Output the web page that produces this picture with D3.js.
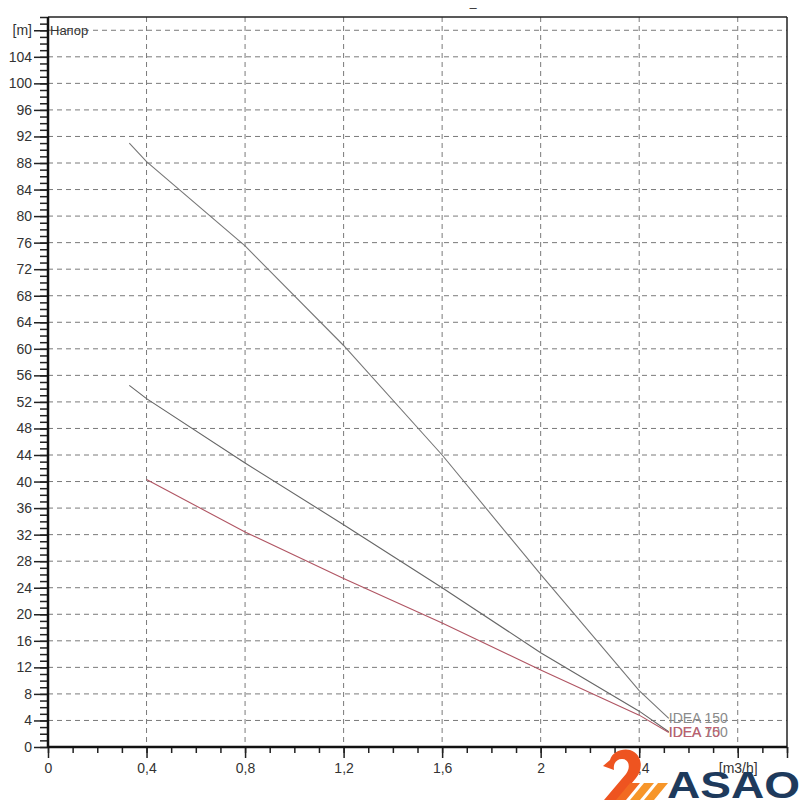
<!DOCTYPE html>
<html><head><meta charset="utf-8">
<script src="https://cdn.jsdelivr.net/npm/d3@7"></script>
<style>body{margin:0;background:#fff}svg{display:block;font-family:"Liberation Sans",Arial,sans-serif}</style>
</head><body><svg id="c" width="800" height="800"></svg>
<script>
const seriesNames = ["IDEA 150", "IDEA 100", "IDEA 75"];
const flowA = [0.33, 0.4, 0.8, 1.2, 1.6, 2.0, 2.4, 2.52];
const headA = [91, 88.2, 75.5, 60.5, 44, 26, 8.5, 4.3];
const flowB = [0.33, 0.4, 0.8, 1.2, 1.6, 2.0, 2.4, 2.52];
const headB = [54.5, 52.5, 42.8, 33.5, 24, 14.2, 5.4, 2.3];
const flowC = [0.4, 0.8, 1.2, 1.6, 2.0, 2.4, 2.52];
const headC = [40.3, 32.4, 25.4, 18.7, 11.6, 4.8, 2.2];
const xTicks = [0, 0.4, 0.8, 1.2, 1.6, 2, 2.4];
const xTickLabels = ["0", "0,4", "0,8", "1,2", "1,6", "2", "2,4"];
const xUnit = "[m3/h]";
const yUnit = "[m]";
const yTitle = "Напор";

const svg = d3.select("#c");
const L = 48, R = 787, T = 17, B = 747;
const x = d3.scaleLinear().domain([0, 3]).range([L, R]);
const y = d3.scaleLinear().domain([0, 110]).range([B, T]);

// grid
const g = svg.append("g");
d3.range(4, 109, 4).forEach(v => g.append("line").attr("x1", L).attr("x2", R).attr("y1", y(v)).attr("y2", y(v))
  .attr("stroke", "#7a7a7a").attr("stroke-dasharray", "5,4").attr("stroke-width", 1));
d3.range(1, 8).map(i => i * 0.4).forEach(v => g.append("line").attr("x1", x(v)).attr("x2", x(v)).attr("y1", T).attr("y2", B)
  .attr("stroke", "#7a7a7a").attr("stroke-dasharray", "5,4").attr("stroke-width", 1));

// frame
svg.append("line").attr("x1", L).attr("x2", R).attr("y1", T).attr("y2", T).attr("stroke", "#222").attr("stroke-width", 1.5);
svg.append("line").attr("x1", R).attr("x2", R).attr("y1", T).attr("y2", B).attr("stroke", "#222").attr("stroke-width", 1.5);

// y axis
const yMinor = d3.range(0, 111, 1);
const yAx = d3.axisLeft(y).tickValues(yMinor).tickSize(8).tickFormat("");
svg.append("g").attr("transform", `translate(${L},0)`).call(yAx)
  .call(s => s.select(".domain").remove()).selectAll("line").attr("stroke", "#222").attr("stroke-width", 1.5);
const yMajor = d3.range(0, 109, 4);
svg.append("g").attr("transform", `translate(${L},0)`).call(d3.axisLeft(y).tickValues(yMajor).tickSize(14)
  .tickFormat(d => d === 108 ? yUnit : d))
  .call(s => s.select(".domain").remove())
  .call(s => s.selectAll("line").attr("stroke", "#222").attr("stroke-width", 1.5))
  .call(s => s.selectAll("text").attr("font-size", 14).attr("fill", "#333").attr("dx", 1));

// x axis
svg.append("g").attr("transform", `translate(0,${B})`).call(d3.axisBottom(x).tickValues(d3.range(0, 31).map(i => i / 10)).tickSize(6).tickFormat(""))
  .call(s => s.select(".domain").remove()).selectAll("line").attr("stroke", "#222").attr("stroke-width", 1.5);
svg.append("g").attr("transform", `translate(0,${B})`).call(d3.axisBottom(x).tickValues(xTicks.concat([2.8, 3])).tickSize(11)
  .tickFormat((d, i) => i < xTickLabels.length ? xTickLabels[i] : (i === xTickLabels.length ? xUnit : "")))
  .call(s => s.select(".domain").remove())
  .call(s => s.selectAll("line").attr("stroke", "#222").attr("stroke-width", 1.5))
  .call(s => s.selectAll("text").attr("font-size", 14).attr("fill", "#333").attr("dy", "0.85em"));

// axis lines
svg.append("line").attr("x1", L).attr("x2", L).attr("y1", T).attr("y2", B + 1).attr("stroke", "#111").attr("stroke-width", 2.5);
svg.append("line").attr("x1", L).attr("x2", R).attr("y1", B).attr("y2", B).attr("stroke", "#111").attr("stroke-width", 2.5);

// labels
svg.append("text").attr("x", 50).attr("y", y(108) + 5).attr("font-size", 13).attr("fill", "#333").text(yTitle);
svg.append("text").attr("x", 473).attr("y", 12).attr("font-size", 13).attr("fill", "#333").attr("text-anchor", "middle").text("–");

// curves
const line = d3.line().x(d => x(d[0])).y(d => y(d[1]));
const series = [
  {name: seriesNames[0], pts: d3.zip(flowA, headA), color: "#777", tcol: "#8a8a8a"},
  {name: seriesNames[1], pts: d3.zip(flowB, headB), color: "#666", tcol: "#8a8a8a"},
  {name: seriesNames[2], pts: d3.zip(flowC, headC), color: "#b05563", tcol: "#c06070"}
];
series.forEach(s => svg.append("path").attr("d", line(s.pts)).attr("fill", "none").attr("stroke", s.color).attr("stroke-width", 1.1));
series.forEach(s => {
  const p = s.pts[s.pts.length - 1];
  svg.append("text").attr("x", x(p[0])).attr("y", y(p[1]) + 5).attr("font-size", 14).attr("fill", s.tcol).text(s.name);
});

// logo
const logo = svg.append("g");
logo.append("text").attr("x", 667).attr("y", 798).attr("font-size", 37).attr("font-weight", "bold")
  .attr("textLength", 133).attr("lengthAdjust", "spacingAndGlyphs")
  .attr("fill", "#1e3a5c").text("ASAO");
// swan-like "2"
logo.append("path").attr("d", "M603,766 L610,760 C612,752 622,748 630,750 C642,754 644,768 636,778 L618,800 L604,800 L626,774 C631,767 629,759 622,759 C616,759 613,764 614,770 Z").attr("fill", "#ee5420");
[0, 1, 2].forEach(i => logo.append("path")
  .attr("d", `M${616 + i * 14},800 L${630 + i * 14},783 L${640 + i * 14},783 L${626 + i * 14},800 Z`)
  .attr("fill", i === 0 ? "#f26a22" : "#f7962a"));
</script></body></html>
